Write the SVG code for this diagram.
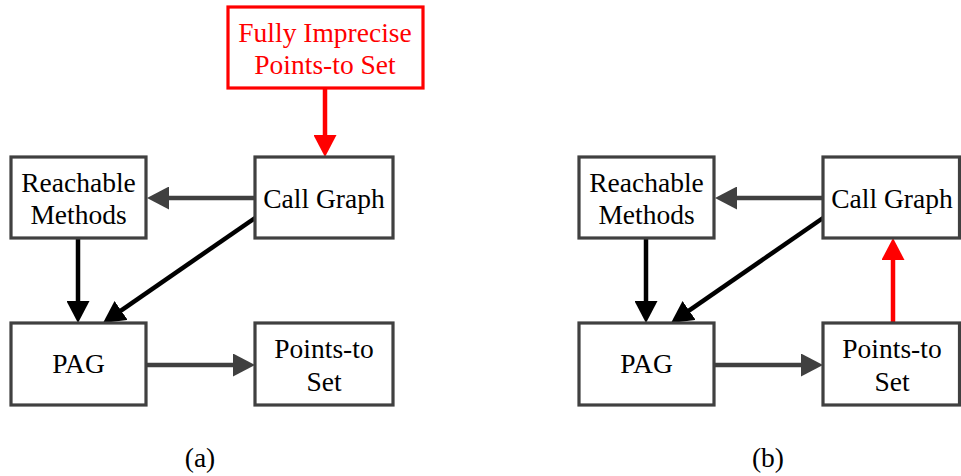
<svg xmlns="http://www.w3.org/2000/svg" width="961" height="476" viewBox="0 0 961 476">
<style>
.box{fill:#fff;stroke:#404040;stroke-width:3.2}
.rbox{fill:#fff;stroke:#ff0000;stroke-width:3.2}
text{font-family:"Liberation Serif","Times New Roman",serif;font-size:27.5px;text-anchor:middle;fill:#000}
.rt{fill:#ff0000}
.g{stroke:#404040;stroke-width:4.5;fill:none}
.k{stroke:#000;stroke-width:4.5;fill:none}
.r{stroke:#ff0000;stroke-width:4.5;fill:none}
</style>
<defs>
<marker id="ag" markerUnits="userSpaceOnUse" markerWidth="22" markerHeight="23" refX="12" refY="11.5" orient="auto" viewBox="0 0 22 23"><path d="M0,0 L22,11.5 L0,23 z" fill="#404040"/></marker>
<marker id="ak" markerUnits="userSpaceOnUse" markerWidth="22" markerHeight="23" refX="12" refY="11.5" orient="auto" viewBox="0 0 22 23"><path d="M0,0 L22,11.5 L0,23 z" fill="#000"/></marker>
<marker id="ar" markerUnits="userSpaceOnUse" markerWidth="22" markerHeight="23" refX="12" refY="11.5" orient="auto" viewBox="0 0 22 23"><path d="M0,0 L22,11.5 L0,23 z" fill="#ff0000"/></marker>
</defs>

<g id="connectors">
<line class="r" x1="325" y1="89" x2="325" y2="147" marker-end="url(#ar)"/>
<line class="g" x1="255" y1="198" x2="157" y2="198" marker-end="url(#ag)"/>
<line class="k" x1="78" y1="239" x2="78" y2="313" marker-end="url(#ak)"/>
<line class="k" x1="255" y1="218" x2="111.2" y2="317.3" marker-end="url(#ak)"/>
<line class="g" x1="146" y1="365" x2="245" y2="365" marker-end="url(#ag)"/>

<line class="g" x1="823" y1="198" x2="725" y2="198" marker-end="url(#ag)"/>
<line class="k" x1="646" y1="239" x2="646" y2="313" marker-end="url(#ak)"/>
<line class="k" x1="823" y1="218" x2="679.2" y2="317.3" marker-end="url(#ak)"/>
<line class="g" x1="714" y1="365" x2="813" y2="365" marker-end="url(#ag)"/>
<line class="r" x1="893" y1="322" x2="893" y2="248" marker-end="url(#ar)"/>
</g>

<g id="a-imprecise">
<rect class="rbox" x="228" y="7" width="195" height="81"/>
<text class="rt" x="325" y="42">Fully Imprecise</text>
<text class="rt" x="325" y="74">Points-to Set</text>
</g>
<g id="a-reachable">
<rect class="box" x="11" y="157" width="135" height="81"/>
<text x="78.5" y="192">Reachable</text>
<text x="78.5" y="224">Methods</text>
</g>
<g id="a-callgraph">
<rect class="box" x="255" y="157" width="138" height="81"/>
<text x="324" y="208">Call Graph</text>
</g>
<g id="a-pag">
<rect class="box" x="11" y="323" width="135" height="82"/>
<text x="78.5" y="373">PAG</text>
</g>
<g id="a-pts">
<rect class="box" x="255" y="323" width="138" height="82"/>
<text x="324" y="358">Points-to</text>
<text x="324" y="391">Set</text>
</g>
<text x="200" y="467">(a)</text>

<g id="b-reachable">
<rect class="box" x="579" y="157" width="135" height="81"/>
<text x="646.5" y="192">Reachable</text>
<text x="646.5" y="224">Methods</text>
</g>
<g id="b-callgraph">
<rect class="box" x="823" y="157" width="136.5" height="81"/>
<text x="892" y="208">Call Graph</text>
</g>
<g id="b-pag">
<rect class="box" x="579" y="323" width="135" height="82"/>
<text x="646.5" y="373">PAG</text>
</g>
<g id="b-pts">
<rect class="box" x="823" y="323" width="136.5" height="82"/>
<text x="892" y="358">Points-to</text>
<text x="892" y="391">Set</text>
</g>
<text x="768" y="467">(b)</text>
</svg>
